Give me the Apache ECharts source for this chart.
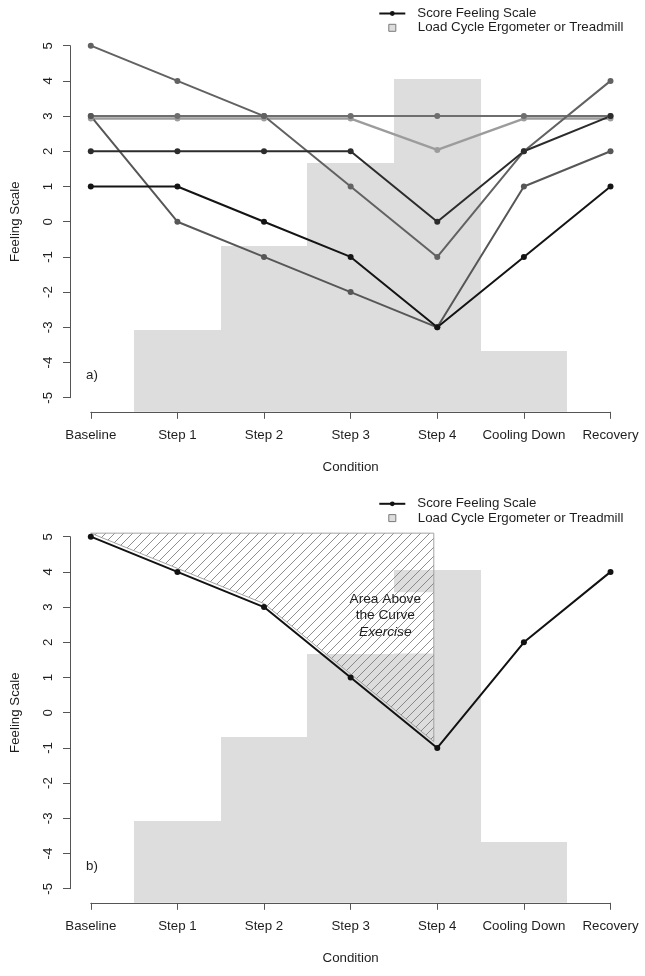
<!DOCTYPE html>
<html><head><meta charset="utf-8">
<script src="https://cdn.jsdelivr.net/npm/echarts@6/dist/echarts.min.js"></script>
<style>html,body{margin:0;padding:0;background:#fff}#c{width:645px;height:976px}</style>
</head><body><div id="c"></div>
<script>
// ---------- data ----------
const categories = ['Baseline', 'Step 1', 'Step 2', 'Step 3', 'Step 4', 'Cooling Down', 'Recovery'];
const yTickValues = [-5, -4, -3, -2, -1, 0, 1, 2, 3, 4, 5];
const loadCategories = ['Step 1', 'Step 2', 'Step 3', 'Step 4', 'Cooling Down'];
const loadValues = [-3.07, -0.69, 1.68, 4.05, -3.66];

// panel a: individual subjects
const subjectF = [2.93, 2.93, 2.93, 2.93, 2.04, 2.93, 2.93];
const subjectE = [3, 3, 3, 3, 3, 3, 3];
const subjectA = [5, 4, 3, 1, -1, 2, 4];
const subjectB = [3, 0, -1, -2, -3, 1, 2];
const subjectD = [2, 2, 2, 2, 0, 2, 3];
const subjectC = [1, 1, 0, -1, -3, -1, 1];
const panelASubjects = [subjectF, subjectE, subjectA, subjectB, subjectD, subjectC];
const panelAColors = ['#9c9c9c', '#6e6e6e', '#626262', '#575757', '#2c2c2c', '#141414'];

// panel b: one subject + area above the curve
const scoreB = [5, 4, 3, 1, -1, 2, 4];
const aucX = [1, 2, 3, 4, 4.96, 4.96, 1];
const aucY = [5.1, 4.1, 3.1, 1.1, -0.82, 5.1, 5.1];
const noteLines = ['Area Above', 'the Curve', 'Exercise'];
const noteX = 4.40;
const noteY = [3.23, 2.76, 2.30];
const noteBoxX = [3.55, 4.96];
const noteBoxY = [1.68, 3.42];

const LINE_NAME = 'Score Feeling Scale';
const BAR_NAME = 'Load Cycle Ergometer or Treadmill';

// ---------- style / layout ----------
const FONT = 'Liberation Sans, Arial, sans-serif';
const FS = 13.3;
const TXT = '#1e1e1e';
const AXC = '#555';
const BARC = '#dddddd';
const xLim = [1, 7], yLim = [-5, 5];
const xPad = 0.04 * (xLim[1] - xLim[0]), yPad = 0.04 * (yLim[1] - yLim[0]);
const plots = [
  {left: 70.0, top: 31.6, width: 561.3, height: 380.2, tag: 'a)'},
  {left: 70.0, top: 522.6, width: 561.3, height: 380.2, tag: 'b)'}
];

function axisGridOf(p) {
  const sx = p.width / (xLim[1] - xLim[0] + 2 * xPad);
  const sy = p.height / (yLim[1] - yLim[0] + 2 * yPad);
  return {left: p.left + xPad * sx, top: p.top + yPad * sy,
          width: (xLim[1] - xLim[0]) * sx, height: (yLim[1] - yLim[0]) * sy,
          offX: yPad * sy, offY: xPad * sx};
}

// hatch pattern
const hc = document.createElement('canvas');
hc.width = 9; hc.height = 9;
const hg = hc.getContext('2d');
hg.strokeStyle = '#7a7a7a'; hg.lineWidth = 0.85;
[-9, 0, 9].forEach(k => { hg.beginPath(); hg.moveTo(k - 1, 10); hg.lineTo(k + 10, -1); hg.stroke(); });
const hatch = {image: hc, repeat: 'repeat'};

const grids = [], xAxes = [], yAxes = [], series = [], legends = [], graphics = [];

plots.forEach((p, pi) => {
  const ag = axisGridOf(p);
  const gData = pi * 2, gAxis = pi * 2 + 1;
  grids.push({left: p.left, top: p.top, width: p.width, height: p.height});
  grids.push({left: ag.left, top: ag.top, width: ag.width, height: ag.height});
  xAxes.push({gridIndex: gData, type: 'value', min: xLim[0] - xPad, max: xLim[1] + xPad, show: false});
  yAxes.push({gridIndex: gData, type: 'value', min: yLim[0] - yPad, max: yLim[1] + yPad, show: false});
  xAxes.push({
    gridIndex: gAxis, type: 'value', min: xLim[0], max: xLim[1], interval: 1, position: 'bottom', offset: ag.offX,
    axisLine: {show: true, onZero: false, lineStyle: {color: AXC, width: 1}},
    axisTick: {show: true, length: 7, lineStyle: {color: AXC}},
    axisLabel: {margin: 17, color: TXT, fontSize: FS, fontFamily: FONT, formatter: v => categories[v - 1] || ''},
    splitLine: {show: false},
    name: 'Condition', nameLocation: 'middle', nameGap: 49,
    nameTextStyle: {color: TXT, fontSize: FS, fontFamily: FONT}
  });
  yAxes.push({
    gridIndex: gAxis, type: 'value', min: yLim[0], max: yLim[1], interval: 1, position: 'left', offset: ag.offY,
    axisLine: {show: true, onZero: false, lineStyle: {color: AXC, width: 1}},
    axisTick: {show: true, length: 7, lineStyle: {color: AXC}},
    axisLabel: {rotate: 90, margin: 15, color: TXT, fontSize: FS, fontFamily: FONT,
                formatter: v => yTickValues.includes(v) ? String(v) : ''},
    splitLine: {show: false},
    name: 'Feeling Scale', nameLocation: 'middle', nameGap: 48, nameRotate: 90,
    nameTextStyle: {color: TXT, fontSize: FS, fontFamily: FONT}
  });

  // load bars (step function)
  series.push({
    type: 'custom', name: BAR_NAME, xAxisIndex: gData, yAxisIndex: gData,
    itemStyle: {color: BARC},
    data: loadValues.map((v, i) => [categories.indexOf(loadCategories[i]) + 1, v]),
    renderItem: (params, api) => {
      const x = api.value(0), y = api.value(1);
      const cs = params.coordSys;
      const a = api.coord([x - 0.5, y]), b = api.coord([x + 0.5, y]);
      const x0 = Math.round(a[0]), x1 = Math.round(b[0]), yt = Math.round(a[1]);
      return {type: 'rect', shape: {x: x0, y: yt, width: x1 - x0, height: cs.y + cs.height - yt},
              style: {fill: BARC}};
    }
  });

  if (pi === 0) {
    panelASubjects.forEach((vals, si) => {
      series.push({
        type: 'line', name: LINE_NAME, xAxisIndex: gData, yAxisIndex: gData,
        data: vals.map((v, i) => [i + 1, v]),
        symbol: 'circle', symbolSize: 6, showSymbol: true,
        lineStyle: {color: panelAColors[si], width: si === 0 ? 2.4 : 2},
        itemStyle: {color: panelAColors[si]}
      });
    });
  } else {
    // white box behind note
    series.push({
      type: 'custom', xAxisIndex: gData, yAxisIndex: gData, data: [[noteBoxX[0], noteBoxY[0]]],
      renderItem: (params, api) => {
        const a = api.coord([noteBoxX[0], noteBoxY[1]]), b = api.coord([noteBoxX[1], noteBoxY[0]]);
        return {type: 'rect', shape: {x: a[0], y: a[1], width: b[0] - a[0], height: b[1] - a[1]},
                style: {fill: '#ffffff'}};
      }
    });
    // hatched area above the curve
    series.push({
      type: 'custom', xAxisIndex: gData, yAxisIndex: gData, data: [[aucX[0], aucY[0]]],
      renderItem: (params, api) => {
        const pts = aucX.map((x, i) => api.coord([x, aucY[i]]));
        return {type: 'polygon', shape: {points: pts},
                style: {fill: hatch, stroke: '#9a9a9a', lineWidth: 0.9}};
      }
    });
    // note text
    series.push({
      type: 'custom', xAxisIndex: gData, yAxisIndex: gData, data: [[noteX, noteY[0]]],
      renderItem: (params, api) => ({
        type: 'group',
        children: noteLines.map((t, i) => {
          const c = api.coord([noteX, noteY[i]]);
          return {type: 'text', style: {text: t, x: c[0], y: c[1], align: 'center', verticalAlign: 'middle',
                  fill: TXT, fontSize: FS + 0.4, fontFamily: FONT, fontStyle: i === 2 ? 'italic' : 'normal'}};
        })
      })
    });
    series.push({
      type: 'line', name: LINE_NAME, xAxisIndex: gData, yAxisIndex: gData,
      data: scoreB.map((v, i) => [i + 1, v]),
      symbol: 'circle', symbolSize: 6, showSymbol: true,
      lineStyle: {color: '#121212', width: 2}, itemStyle: {color: '#121212'}
    });
  }

  const legTop = pi === 0 ? 14.0 : 504.3;
  legends.push({
    left: 378.3, top: legTop - 7, padding: 0, itemWidth: 26, itemHeight: 6, selectedMode: false,
    data: [{name: LINE_NAME, itemStyle: {color: '#121212'}, lineStyle: {color: '#121212', width: 2}}],
    textStyle: {color: TXT, fontSize: FS, fontFamily: FONT, padding: [0, 0, 0, 7]}
  });
  legends.push({
    left: 388.3, top: legTop + 14.3 - 7, padding: 0, itemWidth: 7, itemHeight: 7, selectedMode: false,
    data: [{name: BAR_NAME, icon: 'rect', itemStyle: {color: BARC, borderColor: '#7a7a7a', borderWidth: 1}}],
    textStyle: {color: TXT, fontSize: FS, fontFamily: FONT, padding: [0, 0, 0, 17]}
  });
  const ag2 = axisGridOf(p);
  graphics.push({type: 'text', left: 86, top: ag2.top + ag2.height - 29,
                 style: {text: p.tag, fill: TXT, fontSize: FS, fontFamily: FONT}});
});

const chart = echarts.init(document.getElementById('c'), null, {renderer: 'canvas'});
chart.setOption({
  animation: false,
  backgroundColor: '#ffffff',
  grid: grids, xAxis: xAxes, yAxis: yAxes,
  legend: legends, graphic: graphics, series: series
});
</script>
</body></html>
